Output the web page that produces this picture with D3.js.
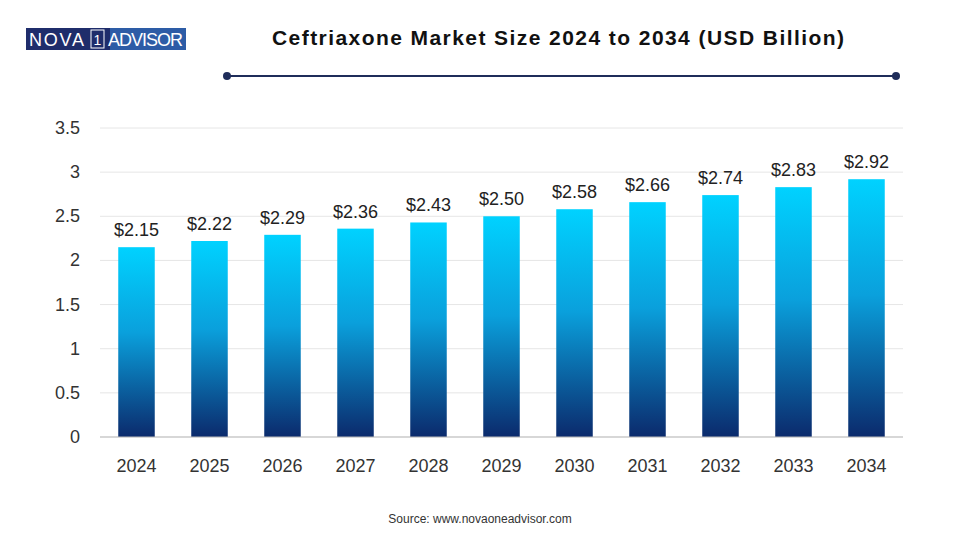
<!DOCTYPE html>
<html lang="en">
<head>
<meta charset="UTF-8">
<script src="https://cdn.jsdelivr.net/npm/d3@7"></script>
<style>
  body { margin: 0; background: #fff; }
  svg { font-family: "Liberation Sans", Arial, sans-serif; }
</style>
</head>
<body>
<svg id="chart" width="960" height="540"></svg>
<script>
const years = ["2024","2025","2026","2027","2028","2029","2030","2031","2032","2033","2034"];
const values = [2.15, 2.22, 2.29, 2.36, 2.43, 2.50, 2.58, 2.66, 2.74, 2.83, 2.92];
const yTicks = [0, 0.5, 1, 1.5, 2, 2.5, 3, 3.5];

const svg = d3.select("#chart");
const plotLeft = 100, plotRight = 903, plotTop = 128, plotBottom = 437;

// gradient for bars
const grad = svg.append("defs").append("linearGradient")
    .attr("id", "barGrad").attr("x1", 0).attr("y1", 0).attr("x2", 0).attr("y2", 1);
grad.append("stop").attr("offset", "0%").attr("stop-color", "#00d2ff");
grad.append("stop").attr("offset", "45%").attr("stop-color", "#0aa0dc");
grad.append("stop").attr("offset", "100%").attr("stop-color", "#0b2a6c");

// logo
const logo = svg.append("g");
logo.append("rect").attr("x", 26).attr("y", 28).attr("width", 160).attr("height", 22).attr("fill", "#1f2d6b");
logo.append("rect").attr("x", 110).attr("y", 28).attr("width", 76).attr("height", 22).attr("fill", "#2d5ca6");
logo.append("text").attr("x", 29).attr("y", 46).attr("fill", "#fff").attr("font-size", 18)
    .attr("textLength", 55).text("NOVA");
logo.append("rect").attr("x", 91).attr("y", 30).attr("width", 13).attr("height", 18)
    .attr("fill", "none").attr("stroke", "#fff").attr("stroke-width", 1);
logo.append("text").attr("x", 97.5).attr("y", 45).attr("fill", "#fff").attr("font-size", 14)
    .attr("text-anchor", "middle").text("1");
logo.append("text").attr("x", 108).attr("y", 46).attr("fill", "#fff").attr("font-size", 18)
    .attr("textLength", 75).text("ADVISOR");

// title
svg.append("text").attr("x", 558).attr("y", 45).attr("text-anchor", "middle")
    .attr("font-size", 21).attr("font-weight", "bold").attr("fill", "#111")
    .attr("textLength", 572)
    .text("Ceftriaxone Market Size 2024 to 2034 (USD Billion)");
svg.append("line").attr("x1", 227).attr("x2", 896).attr("y1", 76).attr("y2", 76)
    .attr("stroke", "#1f2d5a").attr("stroke-width", 2);
svg.selectAll("circle.end").data([227, 896]).enter().append("circle")
    .attr("cx", d => d).attr("cy", 76).attr("r", 4).attr("fill", "#1f2d5a");

const x = d3.scaleBand().domain(years).range([plotLeft, plotRight]).paddingInner(0.5).paddingOuter(0.25);
const y = d3.scaleLinear().domain([0, 3.5]).range([plotBottom, plotTop]);

// gridlines
svg.selectAll("line.grid").data(yTicks).enter().append("line")
    .attr("x1", plotLeft).attr("x2", plotRight)
    .attr("y1", d => y(d)).attr("y2", d => y(d))
    .attr("stroke", "#e6e6e6");

// y axis labels
svg.selectAll("text.ytick").data(yTicks).enter().append("text")
    .attr("x", 80).attr("y", d => y(d) + 6).attr("text-anchor", "end")
    .attr("font-size", 18).attr("fill", "#333").text(d => d);

// bars
svg.selectAll("rect.bar").data(values).enter().append("rect")
    .attr("x", (d, i) => x(years[i])).attr("width", x.bandwidth())
    .attr("y", d => y(d)).attr("height", d => plotBottom - y(d))
    .attr("fill", "url(#barGrad)");

// value labels
svg.selectAll("text.val").data(values).enter().append("text")
    .attr("x", (d, i) => x(years[i]) + x.bandwidth() / 2).attr("y", d => y(d) - 11)
    .attr("text-anchor", "middle").attr("font-size", 18).attr("fill", "#222")
    .text(d => "$" + d.toFixed(2));

// x axis
svg.append("line").attr("x1", plotLeft).attr("x2", plotRight).attr("y1", plotBottom).attr("y2", plotBottom)
    .attr("stroke", "#bbb");
svg.selectAll("text.xtick").data(years).enter().append("text")
    .attr("x", d => x(d) + x.bandwidth() / 2).attr("y", 472).attr("text-anchor", "middle")
    .attr("font-size", 18).attr("fill", "#333").text(d => d);

// source
svg.append("text").attr("x", 480).attr("y", 523).attr("text-anchor", "middle")
    .attr("font-size", 12).attr("fill", "#333").text("Source: www.novaoneadvisor.com");
</script>
</body>
</html>
